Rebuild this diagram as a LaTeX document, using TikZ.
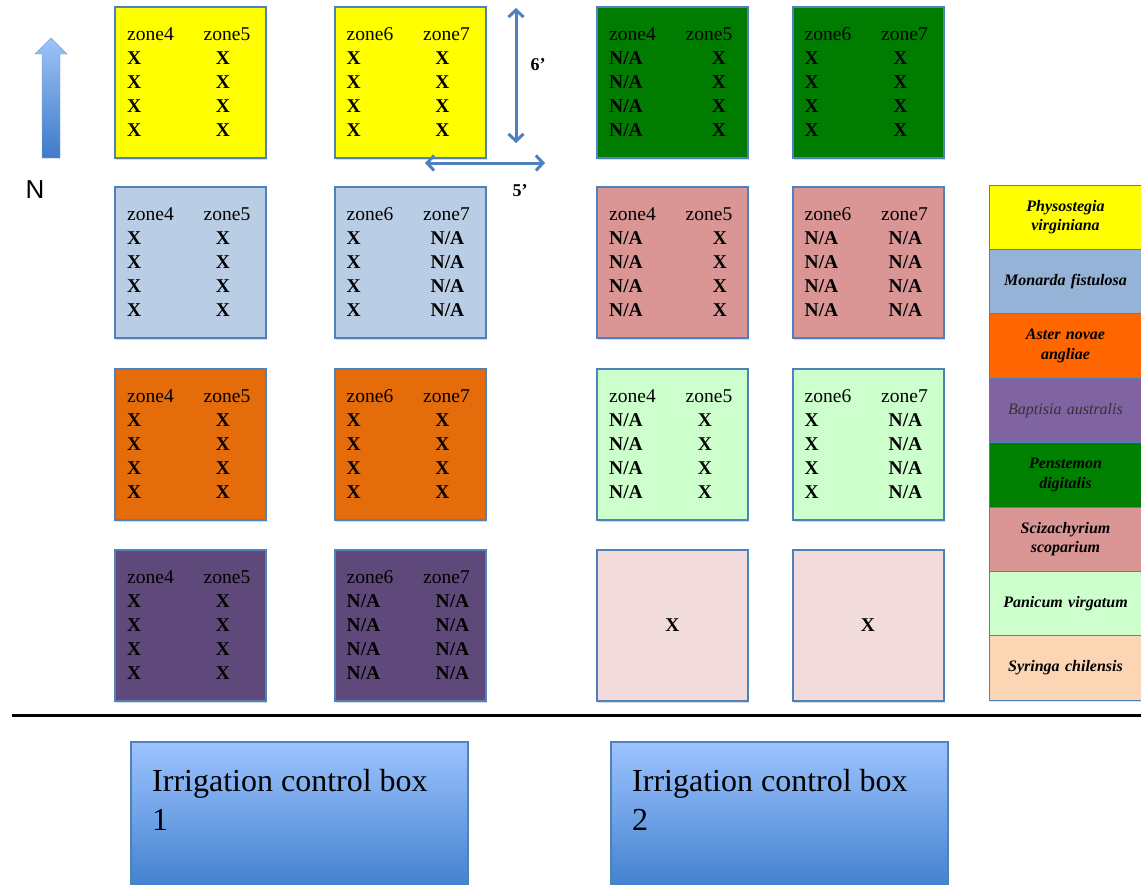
\documentclass[tikz,border=0pt]{standalone}
\usepackage{fontspec}
\setmainfont{Liberation Serif}
\newfontfamily\arialfont{Liberation Sans}
\usepackage{xcolor}
\usepackage{tikz}
\usetikzlibrary{shapes,arrows.meta,positioning,calc,shadows}

\definecolor{boxblue}{HTML}{4F81BD}
\definecolor{bedyellow}{HTML}{FFFF00}
\definecolor{bedblue}{HTML}{B9CDE5}
\definecolor{bedorange}{HTML}{E46C0A}
\definecolor{bedpurple}{HTML}{5F497A}
\definecolor{bedgreen}{HTML}{007D00}
\definecolor{bedpink}{HTML}{D99694}
\definecolor{bedmint}{HTML}{CCFFCC}
\definecolor{bedblush}{HTML}{F2DCDB}
\definecolor{legblue}{HTML}{95B3D7}
\definecolor{legorange}{HTML}{FF6600}
\definecolor{legpurple}{HTML}{8064A2}
\definecolor{leggreen}{HTML}{008000}
\definecolor{legpeach}{HTML}{FCD5B4}
\definecolor{ctrltop}{HTML}{9DC3FF}
\definecolor{ctrlbot}{HTML}{3F7FCC}
\definecolor{arrowtop}{HTML}{9DC3F7}
\definecolor{arrowbot}{HTML}{3E7BC9}

\tikzset{
  bed/.style={draw=boxblue, line width=2pt, minimum width=151pt, minimum height=151pt, inner sep=0pt,
    drop shadow={opacity=0.3, shadow xshift=1pt, shadow yshift=-2pt}},
  zonetext/.style={font=\fontsize{19.5}{23}\selectfont, inner sep=0pt, anchor=base},
  entry/.style={font=\fontsize{19.5}{23}\selectfont\bfseries, inner sep=0pt, anchor=base},
  legendrow/.style={draw=boxblue, line width=1pt, minimum width=153pt, minimum height=64.4pt, text width=145pt,
    align=center, inner sep=0pt, font=\fontsize{16}{19.5}\selectfont\bfseries\itshape,
    drop shadow={opacity=0.25, shadow xshift=1pt, shadow yshift=-1.5pt}},
  ctrlbox/.style={draw=boxblue, line width=2pt, minimum width=337pt, minimum height=150pt, inner sep=0pt,
    top color=ctrltop, bottom color=ctrlbot, drop shadow={opacity=0.3, shadow xshift=1pt, shadow yshift=-2pt}},
  ctrltext/.style={font=\fontsize{32}{39}\selectfont, align=left, inner sep=0pt, anchor=north west},
  dim/.style={draw=boxblue, line width=3pt, {Straight Barb[length=7pt,width=15pt]}-{Straight Barb[length=7pt,width=15pt]}},
  dimlabel/.style={font=\fontsize{18}{21}\selectfont\bfseries, inner sep=0pt}
}

% one garden bed: name, x, y, fill, left zone, right zone, left entry, right entry, right column centre
\newcommand{\bedbox}[9]{%
  \node[bed, fill=#4] (#1) at (#2,#3) {};
  \node[zonetext, anchor=base west] (#1-h1) at ($(#1.north west)+(13,34.5)$) {#5};
  \node[zonetext] (#1-h2) at ($(#1.north west)+(113,34.5)$) {#6};
  \foreach \i in {0,...,3}{
    \node[entry, anchor=base west] (#1-a\i) at ($(#1.north west)+(13,{58+24*\i})$) {#7};
    \node[entry] (#1-b\i) at ($(#1.north west)+(#9,{58+24*\i})$) {#8};
  }%
}

\begin{document}
\begin{tikzpicture}[x=1pt, y=-1pt]
  \useasboundingbox (0,0) rectangle (1141,884);

  % North arrow
  \shade[top color=arrowtop, bottom color=arrowbot, draw=arrowbot!70, line width=0.4pt]
    (51,38) -- (67,54) -- (60,54) -- (60,158) -- (42,158) -- (42,54) -- (35,54) -- cycle;
  \node[font=\arialfont\fontsize{26}{30}\selectfont, inner sep=0pt] (north) at (35,190) {N};

  % Left beds
  \bedbox{yellowA}{190.5}{82.5}{bedyellow}{zone4}{zone5}{X}{X}{109}
  \bedbox{yellowB}{410}{82.5}{bedyellow}{zone6}{zone7}{X}{X}{109}
  \bedbox{blueA}{190.5}{262.5}{bedblue}{zone4}{zone5}{X}{X}{109}
  \bedbox{blueB}{410}{262.5}{bedblue}{zone6}{zone7}{X}{N/A}{114}
  \bedbox{orangeA}{190.5}{444.5}{bedorange}{zone4}{zone5}{X}{X}{109}
  \bedbox{orangeB}{410}{444.5}{bedorange}{zone6}{zone7}{X}{X}{109}
  \bedbox{purpleA}{190.5}{625.5}{bedpurple}{zone4}{zone5}{X}{X}{109}
  \bedbox{purpleB}{410}{625.5}{bedpurple}{zone6}{zone7}{N/A}{N/A}{119}

  % Right beds
  \bedbox{greenA}{672.5}{82.5}{bedgreen}{zone4}{zone5}{N/A}{X}{123}
  \bedbox{greenB}{868}{82.5}{bedgreen}{zone6}{zone7}{X}{X}{109}
  \bedbox{pinkA}{672.5}{262.5}{bedpink}{zone4}{zone5}{N/A}{X}{124}
  \bedbox{pinkB}{868}{262.5}{bedpink}{zone6}{zone7}{N/A}{N/A}{114}
  \bedbox{mintA}{672.5}{444.5}{bedmint}{zone4}{zone5}{N/A}{X}{109}
  \bedbox{mintB}{868}{444.5}{bedmint}{zone6}{zone7}{X}{N/A}{114}
  \node[bed, fill=bedblush] (blushA) at (672.5,625.5) {};
  \node[entry, anchor=center] (blushA-x) at (blushA) {X};
  \node[bed, fill=bedblush] (blushB) at (868,625.5) {};
  \node[entry, anchor=center] (blushB-x) at (blushB) {X};

  % Bed size
  \coordinate (sixtop) at (516,8);
  \coordinate (sixbot) at (516,143);
  \draw[dim] (sixtop) -- (sixbot);
  \node[dimlabel] (six) at (538,65) {6’};
  \coordinate (fiveleft) at (425,163);
  \coordinate (fiveright) at (545,163);
  \draw[dim] (fiveleft) -- (fiveright);
  \node[dimlabel] (five) at (520,191) {5’};

  % Legend
  \foreach \col/\txt [count=\i from 0] in {bedyellow/{Physostegia\\virginiana}, legblue/{Monarda fistulosa},
      legorange/{Aster novae\\angliae}, legpurple/{\mdseries\color{black!80}Baptisia australis},
      leggreen/{Penstemon\\digitalis}, bedpink/{Scizachyrium\\scoparium},
      bedmint/{Panicum virgatum}, legpeach/{Syringa chilensis}}{
    \node[legendrow, fill=\col] (leg\i) at (1065.5,{185+64.4*(\i+0.5)}) {\txt};
  }

  % Edge of the plot
  \coordinate (edgeleft) at (12,715);
  \coordinate (edgeright) at (1145,715);
  \draw[line width=3pt] (edgeleft) -- (edgeright);

  % Irrigation control boxes
  \node[ctrlbox, anchor=north west] (ctrl1) at (130,741) {};
  \node[ctrltext] (ctrl1-text) at ($(ctrl1.north west)+(22,28)$) {Irrigation control box\\1};
  \node[ctrlbox, anchor=north west] (ctrl2) at (610,741) {};
  \node[ctrltext] (ctrl2-text) at ($(ctrl2.north west)+(22,28)$) {Irrigation control box\\2};
\end{tikzpicture}
\end{document}
